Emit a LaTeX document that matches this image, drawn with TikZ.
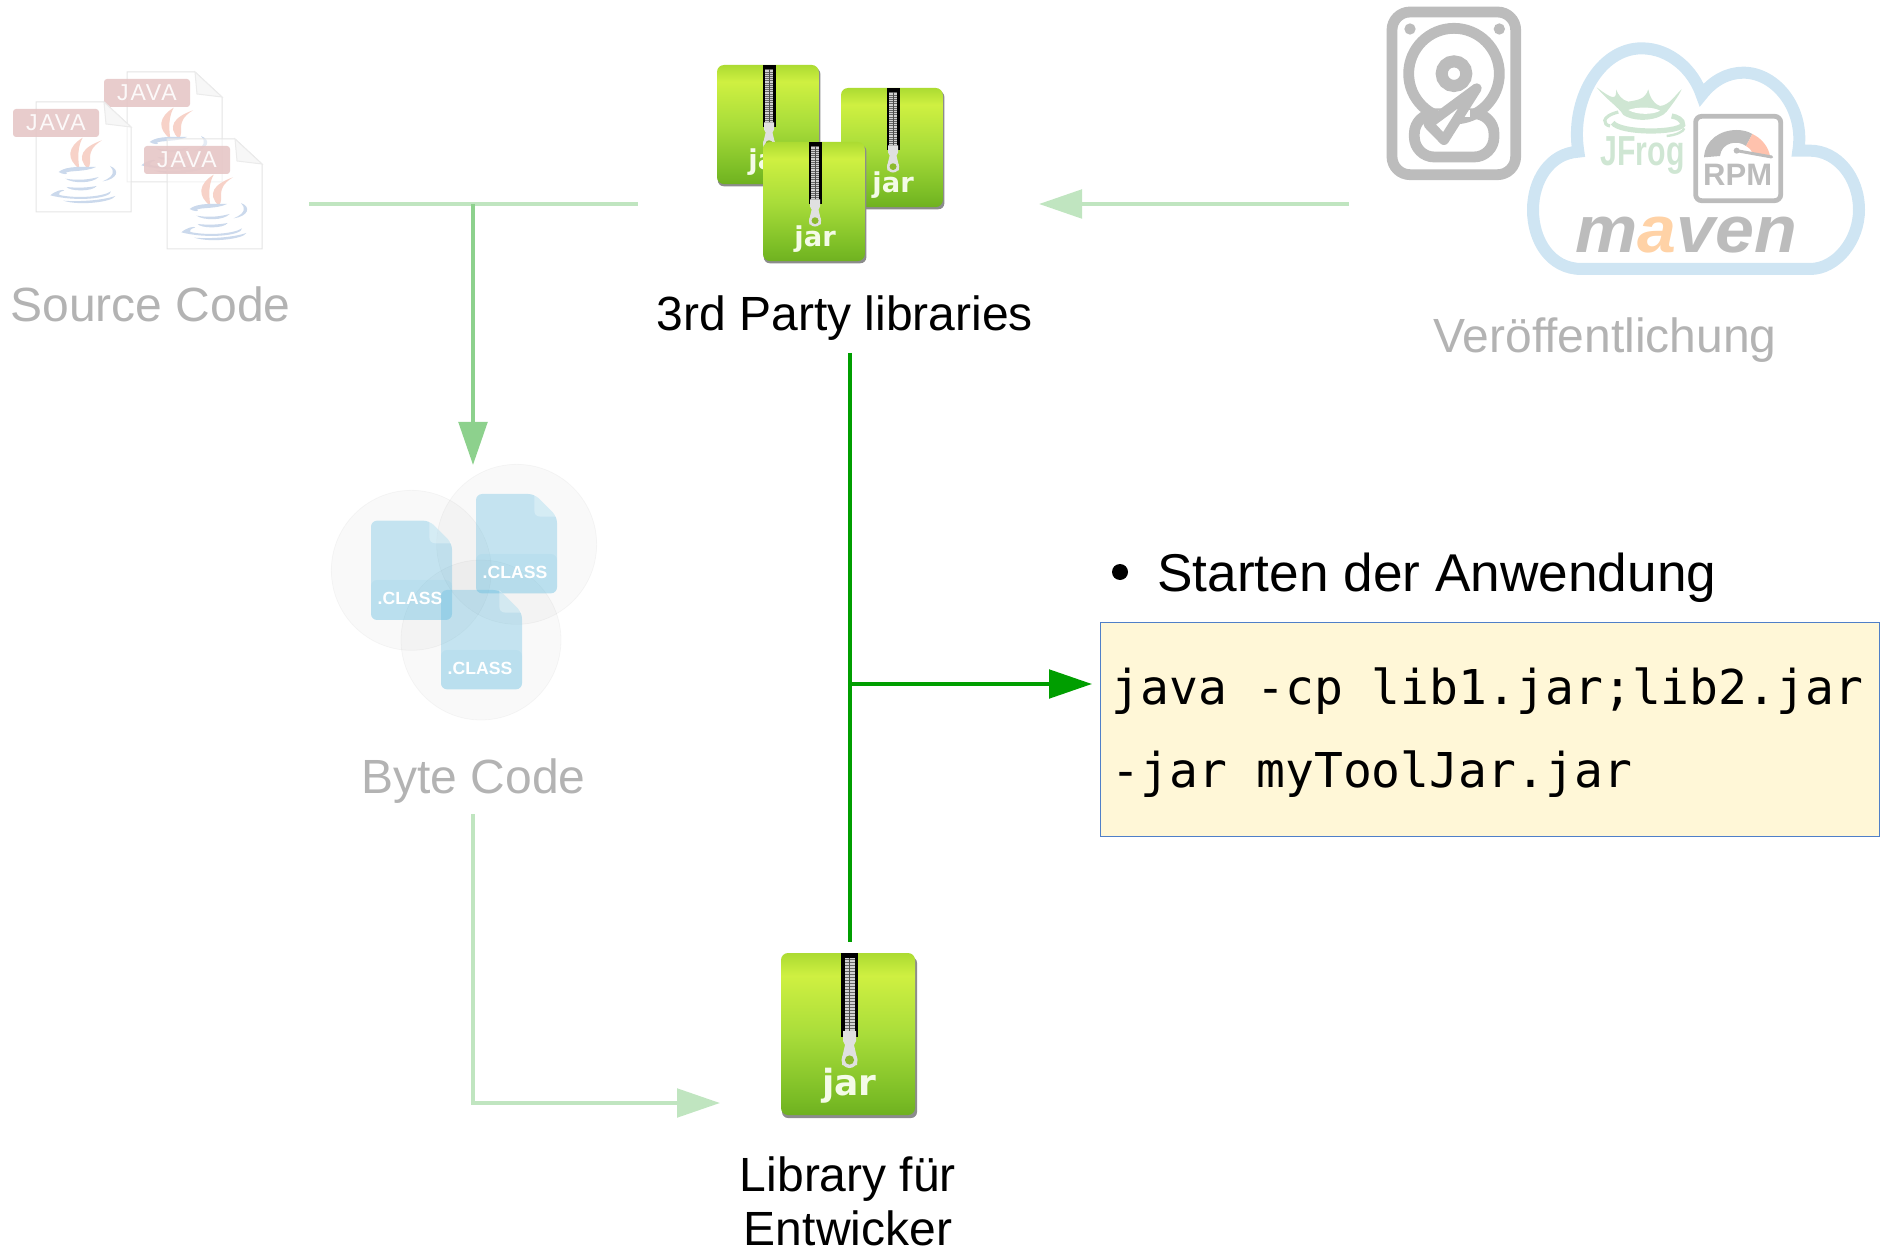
\documentclass[tikz,border=0pt]{standalone}
\usepackage{fontspec}
\setmainfont{Liberation Sans}
\newfontfamily\codefont{DejaVu Sans Mono}
\newfontfamily\jarfont{DejaVu Sans}
\usetikzlibrary{arrows.meta,calc}
\definecolor{lblgray}{HTML}{B3B3B3}
\definecolor{lineLight}{HTML}{C0E5C0}
\definecolor{lineMid}{HTML}{8DD18D}
\definecolor{lineDark}{HTML}{009E00}
\definecolor{iconGray}{HTML}{BCBCBC}
\definecolor{cloudBlue}{HTML}{CFE5F3}
\definecolor{frogGreen}{HTML}{CFE6D3}
\definecolor{jarMid}{HTML}{A6DB35}
\definecolor{docBlue}{HTML}{62BCE0}
\definecolor{cupBlue}{HTML}{CBD9EC}
\definecolor{steamRed}{HTML}{F7D2C8}
\definecolor{tagRed}{HTML}{E6C6C6}
\definecolor{jarS}{HTML}{6FB120}
\definecolor{jarL}{HTML}{7ABC25}
\definecolor{jarC}{HTML}{A9DD3A}
\definecolor{jarH}{HTML}{CFF041}
\definecolor{jarE}{HTML}{ACDB32}
\pgfdeclareverticalshading{jarsh}{100bp}{
  color(0bp)=(jarS);
  color(25bp)=(jarS);
  color(30bp)=(jarL);
  color(50bp)=(jarC);
  color(68bp)=(jarH);
  color(75bp)=(jarE);
  color(100bp)=(jarE)}
\tikzset{
  lbl/.style={font=\fontsize{24}{27}\selectfont,inner sep=0pt,align=center},
  grayLbl/.style={lbl,text=lblgray},
  tipHead/.style={-{Triangle[length=21.5pt,width=14.2pt]}},
  connLight/.style={draw=lineLight,line width=2pt},
  connMid/.style={draw=lineMid,line width=2pt},
  connDark/.style={draw=lineDark,line width=2pt},
  hddStroke/.style={draw=iconGray,line width=5.4pt,line join=round},
}
% jar icon: x y of top left, x scale, y scale; local box is 136 x 164 (large jar)
\newcommand{\jaricon}[4]{%
\begin{scope}[shift={(#1,#2)},xscale=#3,yscale=#4]
  \pgfmathsetmacro{\jarfs}{#3*18}
  \fill[black!45,rounded corners=3pt] (1,4) rectangle (136,165);
  \shade[shading=jarsh,rounded corners=3.5pt] (0,0) rectangle (134,162);
  \fill[black] (60,0) rectangle (77,84);
  \fill[black!18] (63.5,5) rectangle (73.5,80);
  \foreach \k in {6,9,...,78}{\fill[black!60] (63.5,\k) rectangle (73.5,\k+1.2);}
  \fill[black!70] (67.8,5) rectangle (69.2,80);
  \fill[black!12] (62,78) -- (75,78) -- (75,88) -- (73,92) -- (76,105) -- (76,112) -- (61,112) -- (61,105) -- (64,92) -- (62,88) -- cycle;
  \fill[black!12] (68.5,107) circle (8);
  \fill[jarMid!85!black] (68.5,107) circle (4.6);
  \node[inner sep=0pt,text=white!88!jarMid,anchor=base] at (68.5,142) {\jarfont\fontsize{\jarfs}{\jarfs}\selectfont\bfseries jar};
\end{scope}}
% java file icon, #1 #2 = top left of sheet
\newcommand{\javafile}[2]{%
\begin{scope}[shift={(#1,#2)}]
  \fill[white,fill opacity=.5,draw=black!10,line width=.5pt] (0,0) -- (68,0) -- (95,25) -- (95,110) -- (0,110) -- cycle;
  \fill[black!3,draw=black!8,line width=.5pt] (68,0) -- (70,22) -- (95,25) -- cycle;
  \begin{scope}[xscale=1/3,yscale=1/3]
    % steam
    \fill[steamRed] (140,107) .. controls (95,135) and (90,170) .. (130,200) .. controls (125,165) and (125,135) .. cycle;
    \fill[steamRed] (198,115) .. controls (140,135) and (120,165) .. (155,200) .. controls (175,180) and (140,150) .. cycle;
    % cup
    \begin{scope}[fill=cupBlue]
    \fill (68,210) .. controls (90,190) and (150,195) .. (180,195) .. controls (150,210) and (100,205) .. (90,212) .. controls (100,218) and (80,218) .. cycle;
    \fill (200,238) .. controls (238,222) and (235,205) .. (222,192) .. controls (255,205) and (242,232) .. cycle;
    \fill (88,230) .. controls (120,235) and (150,235) .. (188,225) .. controls (170,245) and (110,245) .. cycle;
    \fill (92,255) .. controls (120,258) and (150,258) .. (182,252) .. controls (170,270) and (100,268) .. cycle;
    \fill (43,280) .. controls (60,265) and (80,262) .. (85,265) .. controls (70,270) and (65,275) .. (70,279) .. controls (120,290) and (200,285) .. (225,268) .. controls (225,290) and (120,300) .. cycle;
    \fill (82,296) .. controls (130,300) and (200,295) .. (238,282) .. controls (230,300) and (130,312) .. cycle;
    \end{scope}
  \end{scope}
  \fill[tagRed,fill opacity=.9,rounded corners=1.5pt] (-23,7) rectangle (63,35);
  \node[inner sep=0pt,text=white,opacity=.9] at (20,21) {\fontsize{11.5}{13}\selectfont \addfontfeature{LetterSpace=8}JAVA};
\end{scope}}
\newcommand{\classdoc}[3]{% zoom-unit coords: left, top, band-top
\fill[docBlue,fill opacity=.35,rounded corners=3pt] (#1,#2) -- (#1+175,#2) -- (#1+243,#2+68) -- (#1+243,#2+298) -- (#1,#2+298) -- cycle;
\fill[docBlue,fill opacity=.1,rounded corners=3pt] (#1,#3) rectangle (#1+243,#2+298);
\fill[white,fill opacity=.3] (#1+175,#2) -- (#1+243,#2+68) -- (#1+195,#2+68) .. controls (#1+180,#2+68) and (#1+175,#2+60) .. (#1+175,#2+48) -- cycle;
\node[inner sep=0pt,text=white,anchor=base] at (#1+117,#3+75) {\fontsize{8.8}{10}\selectfont\bfseries .CLASS};
}
\begin{document}
\begin{tikzpicture}[x=0.5pt,y=-0.5pt]
\useasboundingbox (0,0) rectangle (1881,1246);
% ---- source code
\javafile{127}{72}
\javafile{36}{102}
\javafile{167}{139}
\node[grayLbl,anchor=base west] (srcLbl) at (10,322) {Source Code};
% ---- jars
\jaricon{717}{65}{.76}{.735}
\jaricon{841}{88}{.76}{.735}
\jaricon{763}{142}{.76}{.735}
\node[lbl,anchor=base] (libsLbl) at (845,331) {3rd Party libraries};
% ---- HDD
\begin{scope}[shift={(1370,0)},xscale=1/3,yscale=1/3]
  \draw[hddStroke,rounded corners=9pt] (66,36) rectangle (437,524);
  \fill[iconGray] (120,87) circle (17) (388,87) circle (17);
  \draw[hddStroke] (252,221) circle (136);
  \draw[draw=iconGray,line width=6pt] (252,221) circle (37);
  \draw[hddStroke,rounded corners=10pt] (133,341) rectangle (372,471);
  \fill[white] (205,330) rectangle (300,352);
  \draw[hddStroke,fill=white,line width=5pt] (320,265) -- (175,372) -- (222,420) -- cycle;
\end{scope}
% ---- cloud
\begin{scope}[shift={(1370,0)},xscale=1/3,yscale=1/3]
  \draw[cloudBlue,line width=6pt,line join=miter] (635,807) .. controls (540,807) and (489,720) .. (489,630) .. controls (489,540) and (540,460) .. (625,455) .. controls (600,300) and (690,145) .. (815,145) .. controls (900,145) and (970,210) .. (995,285) .. controls (1030,240) and (1075,218) .. (1120,218) .. controls (1220,218) and (1305,330) .. (1285,452) -- (1320,452) .. controls (1400,452) and (1467,530) .. (1467,630) .. controls (1467,720) and (1400,807) .. (1320,807) -- cycle;
  % JFrog splash
  \fill[frogGreen] (680,262) .. controls (710,300) and (745,320) .. (760,345) .. controls (800,370) and (870,360) .. (890,335) .. controls (905,315) and (925,290) .. (935,268) .. controls (915,285) and (900,315) .. (870,318) .. controls (860,315) and (840,300) .. (835,268) .. controls (825,300) and (800,300) .. (775,305) .. controls (755,300) and (745,285) .. (738,268) .. controls (740,300) and (730,300) .. cycle;
  \fill[white] (775,330) .. controls (800,320) and (850,320) .. (870,332) .. controls (850,345) and (800,345) .. cycle;
  \draw[frogGreen,line width=1.6pt] (745,336) .. controls (690,350) and (700,375) .. (720,378);
  \draw[frogGreen,line width=2.6pt] (728,368) .. controls (750,400) and (920,400) .. (938,375) .. controls (940,360) and (920,350) .. (905,348);
  \draw[frogGreen,line width=1.2pt] (890,408) .. controls (920,405) and (940,395) .. (943,385);
  \node[inner sep=0pt,anchor=base,text=frogGreen] (frogLbl) at (818,497) {\scalebox{.72}[1]{\fontsize{21}{21}\selectfont\bfseries JFrog}};
  % RPM badge
  \draw[iconGray,line width=2.4pt,rounded corners=3pt] (977,349) rectangle (1232,602);
  \fill[iconGray] (1002,472) .. controls (1005,420) and (1050,390) .. (1100,390) .. controls (1120,390) and (1135,395) .. (1147,402) -- (1128,438) .. controls (1105,420) and (1055,425) .. (1050,468) -- cycle;
  \fill[red!50!orange!32] (1147,402) .. controls (1175,415) and (1195,440) .. (1200,468) -- (1148,460) .. controls (1145,450) and (1138,445) .. (1128,438) -- cycle;
  \draw[iconGray,line width=1.5pt,line cap=round] (1100,452) -- (1205,471);
  \fill[iconGray] (1100,452) circle (9);
  \node[inner sep=0pt,anchor=base,text=iconGray] (rpmLbl) at (1103,558) {\fontsize{15.5}{16}\selectfont\bfseries RPM};
  % maven
  \node[inner sep=0pt,anchor=base,text=iconGray] (mvnLbl) at (948,757) {\scalebox{1.06}[1]{\fontsize{33}{33}\selectfont\bfseries\itshape m{\color{orange!35!white}a}ven}};
\end{scope}
\node[grayLbl,anchor=base] (pubLbl) at (1605,353) {Veröffentlichung};
% ---- byte code
\begin{scope}[shift={(320,450)},xscale=1/3,yscale=1/3]
  \foreach \cx/\cy in {274/361,590/283,483/570}{
    \fill[black,fill opacity=.025,draw=black,draw opacity=.03,line width=.4pt] (\cx,\cy) circle (240);
  }
  \classdoc{153}{212}{390}
  \classdoc{468}{132}{312}
  \classdoc{363}{420}{600}
\end{scope}
\node[grayLbl,anchor=base] (byteLbl) at (473.5,793) {Byte Code};
% ---- big jar
\jaricon{781}{953}{1}{1}
\node[lbl,anchor=north] (devLbl) at (848,1156) {Library für\\Entwicker};
% ---- right side
\node[inner sep=0pt,anchor=base west,font=\fontsize{26.6}{30}\selectfont] (startLbl) at (1157,591) {Starten der Anwendung};
\fill (1120,572) circle (8);
\node[draw={rgb,255:red,79;green,127;blue,200},line width=.75pt,fill={rgb,255:red,255;green,247;blue,215},minimum width=389.5pt,minimum height=107pt,inner sep=0pt,anchor=north west] (codeBox) at (1099.5,621.5) {};
\node[inner sep=0pt,anchor=base west,font=\codefont\fontsize{24}{24}\selectfont] (codeA) at (1111.5,704) {java -cp lib1.jar;lib2.jar};
\node[inner sep=0pt,anchor=base west,font=\codefont\fontsize{24}{24}\selectfont] (codeB) at (1111.5,787) {-jar myToolJar.jar};
% ---- connectors
\coordinate (srcEnd) at (309,204);
\coordinate (libStart) at (638,204);
\coordinate (branchA) at (473,204);
\coordinate (byteTop) at (473,465);
\draw[connLight] (srcEnd) -- (libStart);
\draw[connMid,tipHead] (branchA) -- (byteTop);
\coordinate (pubEnd) at (1349,204);
\coordinate (libsRight) at (1039,204);
\draw[connLight,tipHead] (pubEnd) -- (libsRight);
\coordinate (byteBottom) at (473,814);
\coordinate (bigJarLeft) at (720,1103);
\draw[connLight,tipHead] (byteBottom) |- (bigJarLeft);
\coordinate (libsBottom) at (849.5,353);
\coordinate (bigJarTop) at (849.5,942);
\coordinate (branchB) at (849.5,684);
\coordinate (boxLeft) at (1092,684);
\draw[connDark] (libsBottom) -- (bigJarTop);
\draw[connDark,tipHead] (branchB) -- (boxLeft);
\end{tikzpicture}
\end{document}
